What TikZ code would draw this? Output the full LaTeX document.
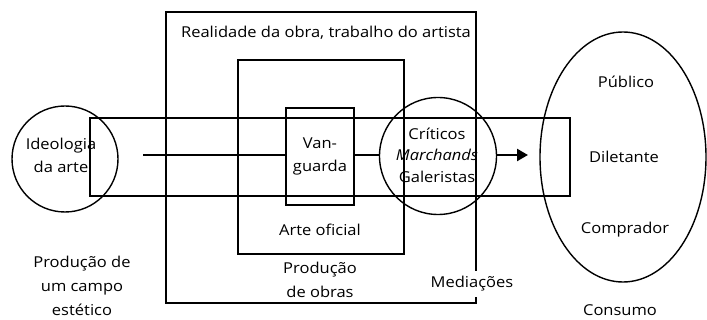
\documentclass[tikz,border=0pt]{standalone}
\usepackage{fontspec}
\setmainfont{Open Sans}[FakeStretch=1.1]
\usetikzlibrary{arrows.meta,shapes.geometric}

\begin{document}
\begin{tikzpicture}[x=1pt,y=-1pt,line width=1.4pt,
	lbl/.style={align=center,font=\fontsize{15}{23}\selectfont,inner sep=0pt}]
	\useasboundingbox (0,0) rectangle (707,320);
	% caixas
	\draw (166,12) rectangle (476,303);
	\draw (238,60) rectangle (404,254);
	\draw (90,118) rectangle (570,196);
	\node[draw,lbl,minimum width=68pt,minimum height=97pt] (vang) at (320,156.5) {Van-\\guarda};
	\node[draw,circle,minimum size=106pt] (ideo) at (65,159) {};
	\node[draw,circle,minimum size=117pt] (crit) at (438,156) {};
	\node[draw,ellipse,minimum width=166pt,minimum height=250pt] (cons) at (623,157) {};
	% fluxo
	\coordinate (ini) at (143,155);
	\coordinate (fim) at (528,155);
	\draw[line width=2pt] (ini) -- (vang.west |- ini);
	\draw[line width=2pt] (vang.east |- ini) -- (crit.west |- ini);
	\draw[line width=2.4pt,-{Triangle[length=11pt,width=12pt]}] (crit.east |- ini) -- (fim);
	% textos
	\node[lbl] (real) at (326,33) {Realidade da obra, trabalho do artista};
	\node[lbl] (ideotxt) at (61,155) {Ideologia\\da arte};
	\node[lbl,font=\fontsize{15}{21.5}\selectfont] (crittxt) at (437,155) {Críticos\\\textit{Marchands}\\Galeristas};
	\node[lbl] (ofic) at (320,230) {Arte oficial};
	\node[lbl,font=\fontsize{15}{24}\selectfont] (prod) at (320,280) {Produção\\de obras};
	\node[lbl,fill=white,minimum height=26pt] (medi) at (472,284) {Mediações};
	\node[lbl,font=\fontsize{15}{24}\selectfont] (campo) at (82,286) {Produção de\\um campo\\estético};
	\node[lbl] (pub) at (626,82) {Público};
	\node[lbl] (dil) at (624,157) {Diletante};
	\node[lbl] (comp) at (625,230) {Comprador};
	\node[lbl] (consumo) at (620,310) {Consumo};
\end{tikzpicture}
\end{document}
